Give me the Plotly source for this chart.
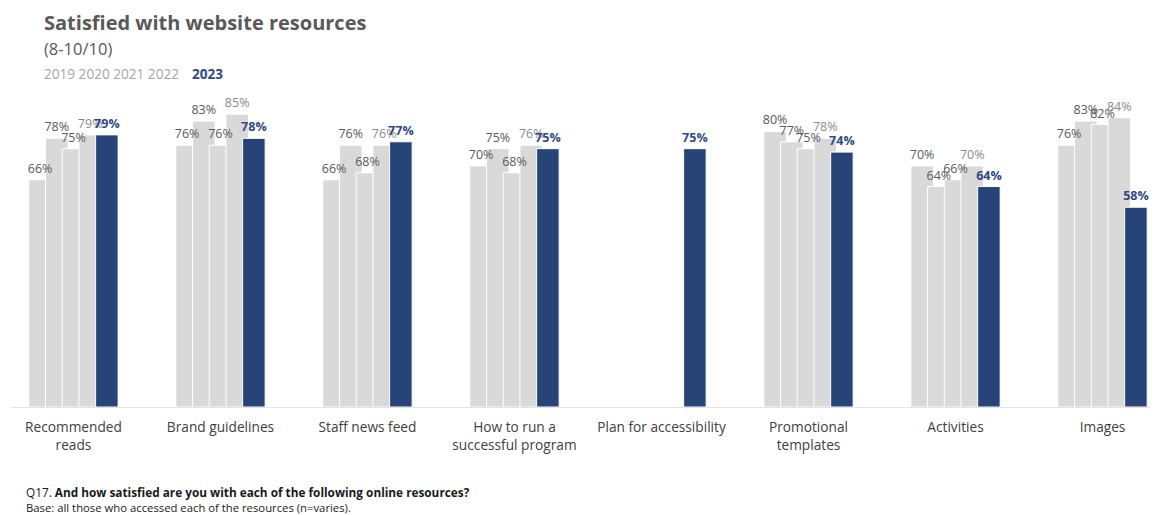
import plotly.graph_objects as go

categories = ["Recommended<br>reads", "Brand guidelines", "Staff news feed",
              "How to run a<br>successful program", "Plan for accessibility",
              "Promotional<br>templates", "Activities", "Images"]
years = ["2019", "2020", "2021", "2022", "2023"]
v2019 = [0.66, 0.76, 0.66, 0.70, None, 0.80, 0.70, 0.76]
v2020 = [0.78, 0.83, 0.76, 0.75, None, 0.77, 0.64, 0.83]
v2021 = [0.75, 0.76, 0.68, 0.68, None, 0.75, 0.66, 0.82]
v2022 = [0.79, 0.85, 0.76, 0.76, None, 0.78, 0.70, 0.84]
v2023 = [0.79, 0.78, 0.77, 0.75, 0.75, 0.74, 0.64, 0.58]
series = [v2019, v2020, v2021, v2022, v2023]

FONT = "Open Sans"
GRAY = "#d9d9d9"
BLUE = "#264478"
bar_colors = [GRAY, GRAY, GRAY, GRAY, BLUE]
label_colors = ["#595959", "#595959", "#595959", "#8a8a8a", "#2E4A86"]

# the page body has an 8px margin, so the figure is drawn 8px in from the corner
OFF = 8
W_FIG, H_FIG = 1160 - OFF, 515 - OFF
ML, MR, MT, MB = 3, 10, 89, 108
PW = W_FIG - ML - MR
PH = H_FIG - MT - MB

bw = 0.153      # bar width (category units)
step = 0.1136   # distance between successive bars (bars overlap)
start = -(4 * step + bw) / 2

fig = go.Figure()
# solid bars
for i, (yr, vals) in enumerate(zip(years, series)):
    fig.add_trace(go.Bar(
        x=categories, y=vals, name=yr,
        offset=start + i * step, width=bw,
        marker=dict(color=bar_colors[i], line=dict(color="white", width=1)),
        hoverinfo="skip", showlegend=False,
    ))
# transparent duplicates carrying the labels (drawn on top of all bars)
for i, (yr, vals) in enumerate(zip(years, series)):
    fig.add_trace(go.Bar(
        x=categories, y=vals, name=yr + " labels",
        offset=start + i * step, width=bw,
        marker=dict(color="rgba(0,0,0,0)", line=dict(width=0)),
        texttemplate="%{y:.0%}", textposition="outside",
        textfont=dict(family=FONT, size=12.5, color=label_colors[i],
                      weight="bold" if i == 4 else "normal"),
        constraintext="none", cliponaxis=False,
        hoverinfo="skip", showlegend=False,
    ))


def px(x):
    return (x - OFF - ML) / PW


def py(y):
    return (H_FIG - MB - (y - OFF)) / PH


annotations = [
    dict(text="<b>Satisfied with website resources</b>", x=px(42), y=py(22),
         font=dict(family=FONT, size=20, color="#595959")),
    dict(text="(8-10/10)", x=px(42), y=py(48),
         font=dict(family=FONT, size=16.5, color="#595959")),
    dict(text="2019 2020 2021 2022", x=px(42), y=py(73),
         font=dict(family=FONT, size=13.6, color="#a6a6a6")),
    dict(text="<b>2023</b>", x=px(190), y=py(73),
         font=dict(family=FONT, size=13.6, color="#2E4A86")),
    dict(text="Q17. <b>And how satisfied are you with each of the following online resources?</b>",
         x=px(24), y=py(492), font=dict(family=FONT, size=11.8, color="#1a1a1a")),
    dict(text="Base: all those who accessed each of the resources (n=varies).",
         x=px(24), y=py(508), font=dict(family=FONT, size=11.3, color="#1a1a1a")),
]
for a in annotations:
    a.update(xref="paper", yref="paper", xanchor="left", yanchor="middle",
             showarrow=False)

fig.update_layout(
    width=W_FIG, height=H_FIG,
    margin=dict(l=ML, r=MR, t=MT, b=MB, pad=0),
    barmode="overlay",
    paper_bgcolor="white", plot_bgcolor="white",
    annotations=annotations,
    xaxis=dict(type="category", range=[-0.425, 7.323], showgrid=False,
               showline=True, linecolor="#e3e3e3", linewidth=1,
               ticks="", ticklabelstandoff=8,
               tickfont=dict(family=FONT, size=13.7, color="#404040")),
    yaxis=dict(range=[0, 0.9], visible=False, showgrid=False, zeroline=False),
)

fig.write_html("out.html")
